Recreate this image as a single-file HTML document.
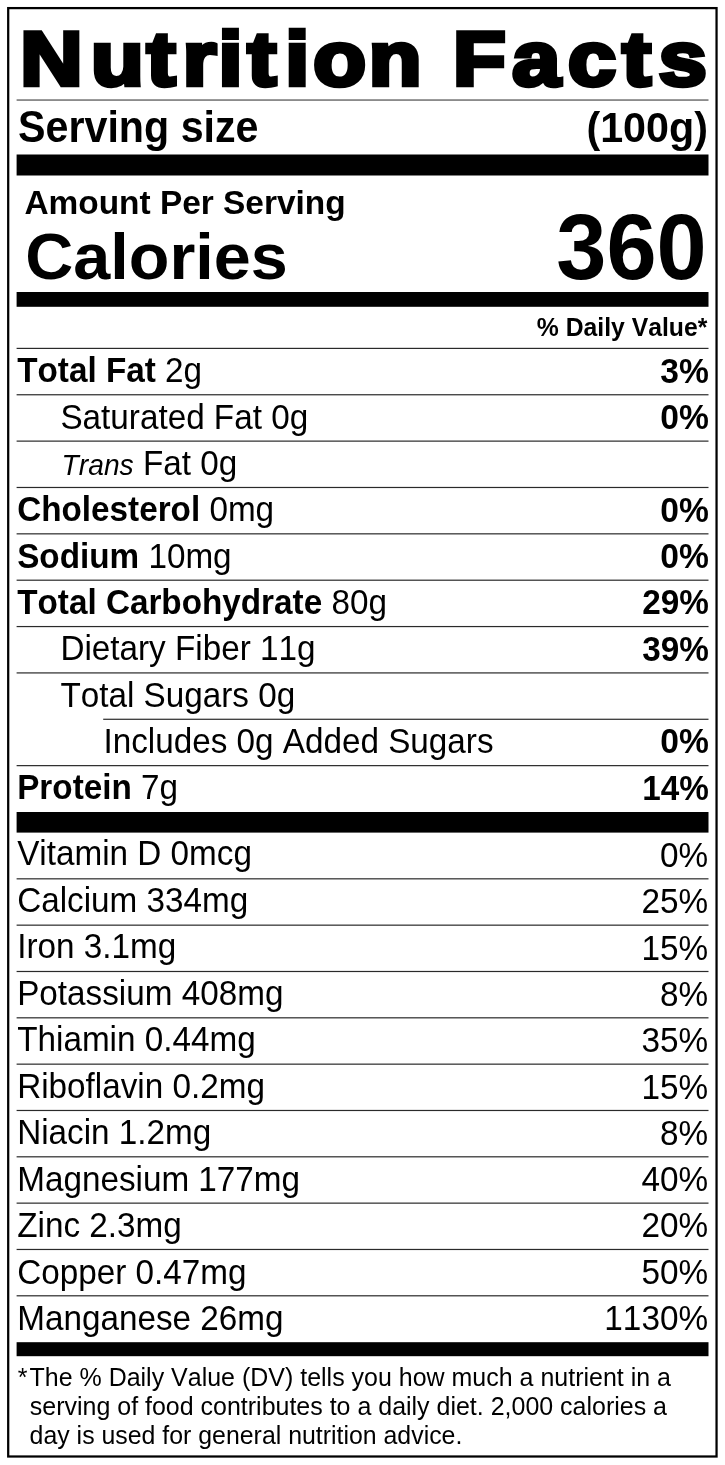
<!DOCTYPE html>
<html lang="en"><head><meta charset="utf-8"><title>Nutrition Facts</title>
<style>
html,body{margin:0;padding:0;background:#fff;}
body{width:725px;height:1465px;overflow:hidden;}
svg{display:block;font-family:"Liberation Sans", Arial, Helvetica, sans-serif;fill:#000;font-kerning:none;}
</style></head><body>
<svg width="725" height="1465" viewBox="0 0 725 1465">
<rect width="725" height="1465" fill="#fff"/>
<rect x="8.2" y="8.1" width="708.35" height="1448.4" fill="none" stroke="#000" stroke-width="2.25"/>
<text transform="scale(1.144,1)" x="17.77 79.45 128.2 159.81 190.99 216.31 249.38 273.73 322.33 383.22 395.98 447.86 496.46 543.84 575.83" y="84.75" font-size="75.5" font-weight="700" stroke="#000" stroke-width="4.5" stroke-linejoin="miter" stroke-miterlimit="10">Nutrition Facts</text>
<rect x="16.6" y="99.35" width="691.9" height="1.4" fill="#666"/>
<rect x="16.6" y="154.5" width="691.9" height="21.0" fill="#000"/>
<rect x="16.6" y="292.0" width="691.9" height="14.8" fill="#000"/>
<rect x="16.6" y="347.8" width="691.9" height="1.2" fill="#2a2a2a"/>
<rect x="16.6" y="394.16" width="691.9" height="1.2" fill="#2a2a2a"/>
<rect x="16.6" y="440.52" width="691.9" height="1.2" fill="#2a2a2a"/>
<rect x="16.6" y="486.88" width="691.9" height="1.2" fill="#2a2a2a"/>
<rect x="16.6" y="533.24" width="691.9" height="1.2" fill="#2a2a2a"/>
<rect x="16.6" y="579.6" width="691.9" height="1.2" fill="#2a2a2a"/>
<rect x="16.6" y="625.96" width="691.9" height="1.2" fill="#2a2a2a"/>
<rect x="16.6" y="672.32" width="691.9" height="1.2" fill="#2a2a2a"/>
<rect x="103.2" y="718.68" width="605.3" height="1.2" fill="#2a2a2a"/>
<rect x="16.6" y="765.04" width="691.9" height="1.2" fill="#2a2a2a"/>
<rect x="16.6" y="878.23" width="691.9" height="1.2" fill="#2a2a2a"/>
<rect x="16.6" y="924.56" width="691.9" height="1.2" fill="#2a2a2a"/>
<rect x="16.6" y="970.89" width="691.9" height="1.2" fill="#2a2a2a"/>
<rect x="16.6" y="1017.22" width="691.9" height="1.2" fill="#2a2a2a"/>
<rect x="16.6" y="1063.55" width="691.9" height="1.2" fill="#2a2a2a"/>
<rect x="16.6" y="1109.88" width="691.9" height="1.2" fill="#2a2a2a"/>
<rect x="16.6" y="1156.21" width="691.9" height="1.2" fill="#2a2a2a"/>
<rect x="16.6" y="1202.54" width="691.9" height="1.2" fill="#2a2a2a"/>
<rect x="16.6" y="1248.87" width="691.9" height="1.2" fill="#2a2a2a"/>
<rect x="16.6" y="1295.2" width="691.9" height="1.2" fill="#2a2a2a"/>
<rect x="16.6" y="812" width="691.9" height="20.6" fill="#000"/>
<rect x="16.6" y="1342.2" width="691.9" height="14.0" fill="#000"/>
<text x="18.12" y="142.4" font-size="43.5" font-weight="700" textLength="240.39" lengthAdjust="spacingAndGlyphs">Serving size</text>
<text x="586.42" y="142.2" font-size="42.6" font-weight="700" textLength="121.51" lengthAdjust="spacingAndGlyphs">(100g)</text>
<text x="24.49" y="213.5" font-size="33.2" font-weight="700" textLength="321.1" lengthAdjust="spacingAndGlyphs">Amount Per Serving</text>
<text x="25.18" y="279.2" font-size="65" font-weight="700" textLength="262.65" lengthAdjust="spacingAndGlyphs">Calories</text>
<text x="556.3" y="279.0" font-size="92" font-weight="700" textLength="150.38" lengthAdjust="spacingAndGlyphs">360</text>
<text x="536.79" y="336.2" font-size="26.2" font-weight="700" textLength="170.61" lengthAdjust="spacingAndGlyphs">% Daily Value*</text>
<text x="17.2" y="382.2" font-size="34.3" textLength="184.84" lengthAdjust="spacingAndGlyphs"><tspan font-weight="700">Total Fat</tspan> 2g</text>
<text x="660.34" y="382.5" font-size="35.5" font-weight="700" textLength="48.57" lengthAdjust="spacingAndGlyphs">3%</text>
<text x="60.4" y="428.56" font-size="34.3" textLength="247.78" lengthAdjust="spacingAndGlyphs">Saturated Fat 0g</text>
<text x="660.34" y="428.86" font-size="35.5" font-weight="700" textLength="48.57" lengthAdjust="spacingAndGlyphs">0%</text>
<text x="61.6" y="474.92" font-size="34.3" textLength="175.67" lengthAdjust="spacingAndGlyphs"><tspan font-style="italic" font-size="29.1">Trans</tspan> Fat 0g</text>
<text x="17.2" y="521.28" font-size="34.3" textLength="256.92" lengthAdjust="spacingAndGlyphs"><tspan font-weight="700">Cholesterol</tspan> 0mg</text>
<text x="660.34" y="521.58" font-size="35.5" font-weight="700" textLength="48.57" lengthAdjust="spacingAndGlyphs">0%</text>
<text x="17.2" y="567.64" font-size="34.3" textLength="214.4" lengthAdjust="spacingAndGlyphs"><tspan font-weight="700">Sodium</tspan> 10mg</text>
<text x="660.34" y="567.94" font-size="35.5" font-weight="700" textLength="48.57" lengthAdjust="spacingAndGlyphs">0%</text>
<text x="17.2" y="614.0" font-size="34.3" textLength="369.69" lengthAdjust="spacingAndGlyphs"><tspan font-weight="700">Total Carbohydrate</tspan> 80g</text>
<text x="642.31" y="614.3" font-size="35.5" font-weight="700" textLength="66.59" lengthAdjust="spacingAndGlyphs">29%</text>
<text x="60.4" y="660.36" font-size="34.3" textLength="255.12" lengthAdjust="spacingAndGlyphs">Dietary Fiber 11g</text>
<text x="642.31" y="660.66" font-size="35.5" font-weight="700" textLength="66.59" lengthAdjust="spacingAndGlyphs">39%</text>
<text x="60.4" y="706.72" font-size="34.3" textLength="234.81" lengthAdjust="spacingAndGlyphs">Total Sugars 0g</text>
<text x="103.4" y="753.08" font-size="34.3" textLength="390.18" lengthAdjust="spacingAndGlyphs">Includes 0g Added Sugars</text>
<text x="660.34" y="753.38" font-size="35.5" font-weight="700" textLength="48.57" lengthAdjust="spacingAndGlyphs">0%</text>
<text x="17.2" y="799.44" font-size="34.3" textLength="160.83" lengthAdjust="spacingAndGlyphs"><tspan font-weight="700">Protein</tspan> 7g</text>
<text x="642.31" y="799.74" font-size="35.5" font-weight="700" textLength="66.59" lengthAdjust="spacingAndGlyphs">14%</text>
<text x="17.2" y="865.4" font-size="34.3" textLength="234.75" lengthAdjust="spacingAndGlyphs">Vitamin D 0mcg</text>
<text x="659.95" y="866.9" font-size="35.5" textLength="48.18" lengthAdjust="spacingAndGlyphs">0%</text>
<text x="17.2" y="911.9" font-size="34.3" textLength="231.08" lengthAdjust="spacingAndGlyphs">Calcium 334mg</text>
<text x="641.41" y="913.22" font-size="35.5" textLength="66.72" lengthAdjust="spacingAndGlyphs">25%</text>
<text x="17.2" y="958.4" font-size="34.3" textLength="159.0" lengthAdjust="spacingAndGlyphs">Iron 3.1mg</text>
<text x="641.41" y="959.54" font-size="35.5" textLength="66.72" lengthAdjust="spacingAndGlyphs">15%</text>
<text x="17.2" y="1004.9" font-size="34.3" textLength="266.22" lengthAdjust="spacingAndGlyphs">Potassium 408mg</text>
<text x="659.95" y="1005.86" font-size="35.5" textLength="48.18" lengthAdjust="spacingAndGlyphs">8%</text>
<text x="17.2" y="1051.4" font-size="34.3" textLength="238.48" lengthAdjust="spacingAndGlyphs">Thiamin 0.44mg</text>
<text x="641.41" y="1052.18" font-size="35.5" textLength="66.72" lengthAdjust="spacingAndGlyphs">35%</text>
<text x="17.2" y="1097.9" font-size="34.3" textLength="247.74" lengthAdjust="spacingAndGlyphs">Riboflavin 0.2mg</text>
<text x="641.41" y="1098.5" font-size="35.5" textLength="66.72" lengthAdjust="spacingAndGlyphs">15%</text>
<text x="17.2" y="1144.4" font-size="34.3" textLength="194.11" lengthAdjust="spacingAndGlyphs">Niacin 1.2mg</text>
<text x="659.95" y="1144.82" font-size="35.5" textLength="48.18" lengthAdjust="spacingAndGlyphs">8%</text>
<text x="17.2" y="1190.9" font-size="34.3" textLength="282.88" lengthAdjust="spacingAndGlyphs">Magnesium 177mg</text>
<text x="641.41" y="1191.14" font-size="35.5" textLength="66.72" lengthAdjust="spacingAndGlyphs">40%</text>
<text x="17.2" y="1237.4" font-size="34.3" textLength="164.53" lengthAdjust="spacingAndGlyphs">Zinc 2.3mg</text>
<text x="641.41" y="1237.46" font-size="35.5" textLength="66.72" lengthAdjust="spacingAndGlyphs">20%</text>
<text x="17.2" y="1283.9" font-size="34.3" textLength="229.28" lengthAdjust="spacingAndGlyphs">Copper 0.47mg</text>
<text x="641.41" y="1283.78" font-size="35.5" textLength="66.72" lengthAdjust="spacingAndGlyphs">50%</text>
<text x="17.2" y="1330.4" font-size="34.3" textLength="266.27" lengthAdjust="spacingAndGlyphs">Manganese 26mg</text>
<text x="604.32" y="1330.1" font-size="35.5" textLength="103.79" lengthAdjust="spacingAndGlyphs">1130%</text>
<text x="17.8" y="1386.1" font-size="25.3" textLength="653.17" lengthAdjust="spacingAndGlyphs">*<tspan dx="2.0">The % Daily Value (DV) tells you how much a nutrient in a</tspan></text>
<text x="29.86" y="1415.1" font-size="25.3" textLength="637.11" lengthAdjust="spacingAndGlyphs">serving of food contributes to a daily diet. 2,000 calories a</text>
<text x="29.62" y="1444.1" font-size="25.3" textLength="432.73" lengthAdjust="spacingAndGlyphs">day is used for general nutrition advice.</text>
</svg>
</body></html>
